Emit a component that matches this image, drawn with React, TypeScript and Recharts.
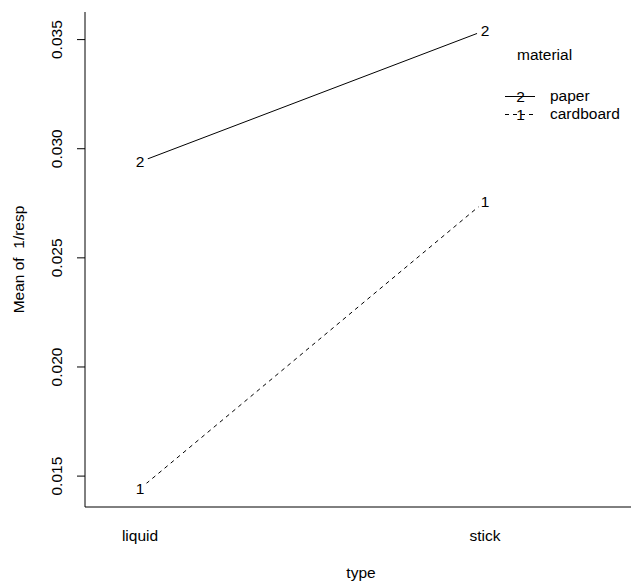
import { LineChart, Line, XAxis, YAxis } from "recharts"

const types = ["liquid", "stick"]
const paper = [0.0294, 0.03542]
const cardboard = [0.01442, 0.02759]
const yTicks = [0.015, 0.02, 0.025, 0.03, 0.035]

const FONT = "'Liberation Sans', Arial, sans-serif"
const FS = 15.5

const data = types.map((t, i) => ({ x: i + 1, type: t, paper: paper[i], cardboard: cardboard[i] }))

const xDomain = [0.8406, 2.4406]
const yDomain = [0.013584, 0.036265]

function labelDot(ch: string) {
  return (props: any) => {
    const { cx, cy, index } = props
    return (
      <g key={`d-${ch}-${index}`}>
        <circle cx={cx} cy={cy} r={8.5} fill="#fff" />
        <text x={cx} y={cy} dy="0.35em" textAnchor="middle" fontSize={FS} fontFamily={FONT} fill="#000">
          {ch}
        </text>
      </g>
    )
  }
}

function YTick({ x, y, payload }: any) {
  const tx = x - 15
  return (
    <text x={tx} y={y} transform={`rotate(-90 ${tx} ${y})`} textAnchor="middle" fontSize={FS} fontFamily={FONT} fill="#000">
      {Number(payload.value).toFixed(3)}
    </text>
  )
}

function XTick({ x, y, payload }: any) {
  return (
    <text x={x} y={y + 34} textAnchor="middle" fontSize={FS} fontFamily={FONT} fill="#000">
      {types[payload.value - 1]}
    </text>
  )
}

export default function App() {
  return (
    <div style={{ position: "absolute", left: 0, top: 0, width: 631, height: 586, overflow: "hidden", background: "#fff" }}>
      <LineChart width={645} height={586} data={data} margin={{ top: 12, right: 8, bottom: 0, left: 0 }}>
        <XAxis
          dataKey="x"
          type="number"
          domain={xDomain}
          ticks={[1, 2]}
          allowDataOverflow
          height={79}
          tickSize={0}
          tickMargin={0}
          tickLine={false}
          axisLine={{ stroke: "#000" }}
          tick={<XTick />}
        />
        <XAxis
          xAxisId="top"
          orientation="top"
          dataKey="x"
          type="number"
          domain={xDomain}
          allowDataOverflow
          height={0}
          tick={false}
          tickLine={false}
          axisLine={{ stroke: "#000" }}
        />
        <YAxis
          type="number"
          domain={yDomain}
          ticks={yTicks}
          allowDataOverflow
          width={85}
          tickSize={8}
          tickMargin={0}
          axisLine={{ stroke: "#000" }}
          tickLine={{ stroke: "#000" }}
          tick={<YTick />}
        />
        <Line dataKey="paper" stroke="#000" strokeWidth={1} dot={labelDot("2")} activeDot={false} isAnimationActive={false} />
        <Line dataKey="cardboard" stroke="#000" strokeWidth={1} strokeDasharray="4 4" dot={labelDot("1")} activeDot={false} isAnimationActive={false} />
      </LineChart>
      <svg width={631} height={586} style={{ position: "absolute", left: 0, top: 0, pointerEvents: "none" }} fontFamily={FONT} fontSize={FS}>
        <text x={361} y={578} textAnchor="middle" fill="#000">type</text>
        <text x={23.5} y={259.5} transform="rotate(-90 23.5 259.5)" textAnchor="middle" fill="#000" style={{ whiteSpace: "pre" }}>
          {"Mean of  1/resp"}
        </text>
        <text x={517} y={59.5} fill="#000">material</text>
        <line x1={505} x2={535} y1={96.5} y2={96.5} stroke="#000" />
        <text x={520.5} y={96.5} dy="0.35em" textAnchor="middle" fill="#000">2</text>
        <text x={550} y={100.5} fill="#000">paper</text>
        <line x1={505} x2={535} y1={114.5} y2={114.5} stroke="#000" strokeDasharray="4 4" />
        <text x={520.5} y={114.5} dy="0.35em" textAnchor="middle" fill="#000">1</text>
        <text x={550} y={118.5} fill="#000">cardboard</text>
      </svg>
    </div>
  )
}
